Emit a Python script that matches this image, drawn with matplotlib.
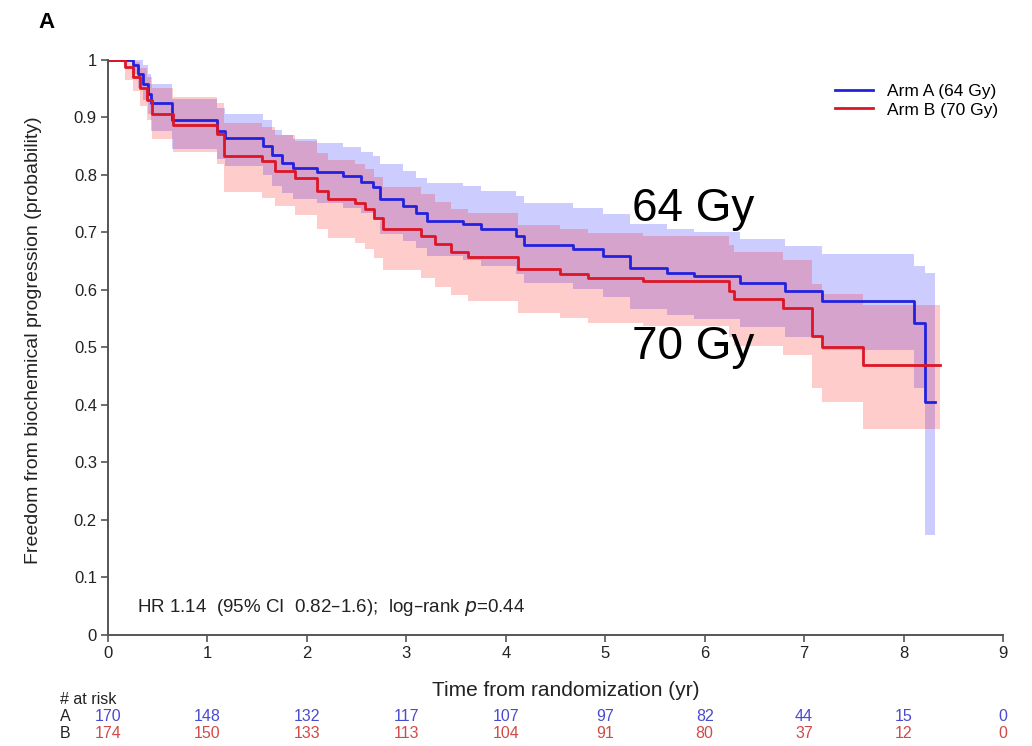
import numpy as np
import matplotlib
matplotlib.use("Agg")
import matplotlib.pyplot as plt
import matplotlib.transforms as mtransforms

plt.rcParams['font.family'] = ['Liberation Sans', 'DejaVu Sans']

# Arm A (64 Gy) - Kaplan-Meier steps
a_t = [0, 0.25, 0.30, 0.35, 0.40, 0.43, 0.64, 1.10, 1.18, 1.56, 1.65, 1.75, 1.86,
       2.10, 2.36, 2.54, 2.66, 2.73, 2.97, 3.10, 3.21, 3.57, 3.75, 4.10, 4.18,
       4.68, 4.98, 5.25, 5.62, 5.89, 6.36, 6.81, 7.18, 8.10, 8.22]
a_s = [1.0, 0.99, 0.975, 0.958, 0.94, 0.924, 0.895, 0.875, 0.864, 0.85, 0.834, 0.82, 0.811,
       0.805, 0.797, 0.788, 0.779, 0.758, 0.746, 0.734, 0.72, 0.714, 0.705, 0.693, 0.677,
       0.67, 0.658, 0.638, 0.629, 0.623, 0.611, 0.597, 0.58, 0.542, 0.405]
# 95% CI of arm A at the same step times
a_hi = [1.0, 1.0, 1.0, 0.99, 0.975, 0.958, 0.932, 0.915, 0.905, 0.895, 0.878, 0.868, 0.862,
        0.855, 0.848, 0.84, 0.833, 0.818, 0.806, 0.795, 0.785, 0.78, 0.772, 0.762, 0.75,
        0.742, 0.732, 0.715, 0.706, 0.70, 0.688, 0.676, 0.662, 0.642, 0.629]
a_lo = [1.0, 0.975, 0.95, 0.93, 0.905, 0.875, 0.845, 0.828, 0.815, 0.80, 0.78, 0.768, 0.758,
        0.75, 0.742, 0.733, 0.722, 0.697, 0.685, 0.673, 0.658, 0.652, 0.642, 0.628, 0.612,
        0.602, 0.588, 0.566, 0.556, 0.549, 0.535, 0.518, 0.495, 0.43, 0.173]
a_end = 8.32

# Arm B (70 Gy)
b_t = [0, 0.17, 0.25, 0.32, 0.39, 0.44, 0.65, 1.10, 1.17, 1.55, 1.68, 1.88, 2.10,
       2.21, 2.48, 2.58, 2.67, 2.76, 3.15, 3.29, 3.45, 3.62, 4.12, 4.55, 4.83, 5.38,
       6.24, 6.29, 6.79, 7.08, 7.18, 7.59]
b_s = [1.0, 0.987, 0.97, 0.95, 0.93, 0.905, 0.887, 0.871, 0.832, 0.823, 0.807, 0.795, 0.772,
       0.758, 0.75, 0.74, 0.725, 0.706, 0.693, 0.679, 0.665, 0.657, 0.636, 0.627, 0.62, 0.615,
       0.597, 0.583, 0.568, 0.519, 0.50, 0.47]
b_hi = [1.0, 1.0, 0.995, 0.985, 0.97, 0.95, 0.935, 0.925, 0.89, 0.882, 0.868, 0.858, 0.838,
        0.826, 0.818, 0.81, 0.796, 0.778, 0.766, 0.753, 0.74, 0.733, 0.713, 0.705, 0.698, 0.694,
        0.678, 0.665, 0.652, 0.61, 0.592, 0.574]
b_lo = [1.0, 0.965, 0.945, 0.92, 0.895, 0.862, 0.84, 0.818, 0.77, 0.76, 0.745, 0.73, 0.705,
        0.69, 0.682, 0.67, 0.655, 0.634, 0.62, 0.605, 0.59, 0.581, 0.56, 0.55, 0.543, 0.537,
        0.518, 0.503, 0.486, 0.43, 0.405, 0.358]
b_end = 8.37

years = list(range(10))
risk_a = [170, 148, 132, 117, 107, 97, 82, 44, 15, 0]
risk_b = [174, 150, 133, 113, 104, 91, 80, 37, 12, 0]

blue = '#2222dd'
red = '#dd1525'

fig = plt.figure(figsize=(10.32, 7.46), dpi=100)
ax = fig.add_axes([0.1047, 0.1488, 0.8672, 0.7714])

def ext(t, v, end):
    return np.append(t, end), np.append(v, v[-1])

t, lo = ext(a_t, a_lo, a_end)
_, hi = ext(a_t, a_hi, a_end)
ax.fill_between(t, lo, hi, step='post', color='#0000ff', alpha=0.2, lw=0)
t, lo = ext(b_t, b_lo, b_end)
_, hi = ext(b_t, b_hi, b_end)
ax.fill_between(t, lo, hi, step='post', color='#ff0000', alpha=0.2, lw=0)

t, s = ext(a_t, a_s, a_end)
ax.step(t, s, where='post', color=blue, lw=2.0, label='Arm A (64 Gy)')
t, s = ext(b_t, b_s, b_end)
ax.step(t, s, where='post', color=red, lw=2.0, label='Arm B (70 Gy)')

ax.set_xlim(0, 9)
ax.set_ylim(0, 1)
ax.set_xticks(years)
ax.set_yticks(np.arange(0, 1.01, 0.1))
ax.set_yticklabels(['0', '0.1', '0.2', '0.3', '0.4', '0.5', '0.6', '0.7', '0.8', '0.9', '1'])
for side in ['top', 'right']:
    ax.spines[side].set_visible(False)
for side in ['left', 'bottom']:
    ax.spines[side].set_color('#555555')
    ax.spines[side].set_linewidth(1.4)
ax.tick_params(direction='out', length=5, width=1.2, color='#555555',
               labelsize=12, labelcolor='#222222', pad=3)

ax.legend(loc='upper right', bbox_to_anchor=(1.012, 0.985), frameon=False,
          fontsize=12.5, handlelength=2.2, handletextpad=0.8, labelspacing=0.2)

ax.text(5.27, 0.72, '64 Gy', fontsize=33, color='black')
ax.text(5.27, 0.48, '70 Gy', fontsize=33, color='black')
ax.text(0.29, 0.047, 'HR 1.14  (95% CI  0.82\u20131.6);  log\u2013rank $\\it{p}$=0.44',
        fontsize=13.5, va='center', color='#222222')

fig.text(0.037, 0.97, 'A', fontsize=16, fontweight='bold', va='center')
fig.text(0.032, 0.544, 'Freedom from biochemical progression (probability)',
         rotation=90, fontsize=14, va='center', ha='center', color='#222222')
fig.text(0.548, 0.075, 'Time from randomization (yr)', fontsize=15,
         ha='center', va='center', color='#222222')

trans = mtransforms.blended_transform_factory(ax.transData, fig.transFigure)
fig.text(0.058, 0.0617, '# at risk', fontsize=11.5, va='center', color='#222222')
fig.text(0.058, 0.0389, 'A', fontsize=11.5, va='center', color='#222222')
fig.text(0.058, 0.0174, 'B', fontsize=11.5, va='center', color='#222222')
for x, na, nb in zip(years, risk_a, risk_b):
    ax.text(x, 0.0389, str(na), transform=trans, ha='center', va='center',
            fontsize=11.5, color='#4a4ad0')
    ax.text(x, 0.0174, str(nb), transform=trans, ha='center', va='center',
            fontsize=11.5, color='#d04a4a')

fig.savefig('out.png', dpi=100)
